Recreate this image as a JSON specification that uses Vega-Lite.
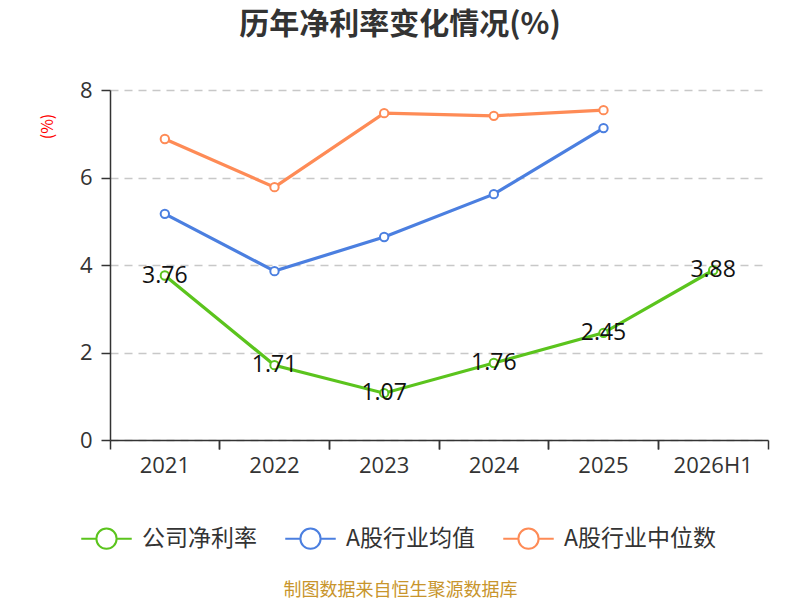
{
  "$schema": "https://vega.github.io/schema/vega-lite/v6.json",
  "width": 658,
  "height": 350,
  "autosize": {"type": "none"},
  "padding": {"left": 110, "top": 90, "right": 32, "bottom": 160},
  "background": "white",
  "config": {
    "font": "Noto Sans CJK SC",
    "view": {"stroke": null}
  },
  "title": {
    "text": "历年净利率变化情况(%)",
    "fontSize": 30,
    "fontWeight": "bold",
    "color": "#333333",
    "anchor": "middle",
    "frame": "group",
    "dx": -39,
    "offset": 39
  },
  "data": {
    "values": [
      {"year": "2021", "series": "公司净利率", "value": 3.76},
      {"year": "2022", "series": "公司净利率", "value": 1.71},
      {"year": "2023", "series": "公司净利率", "value": 1.07},
      {"year": "2024", "series": "公司净利率", "value": 1.76},
      {"year": "2025", "series": "公司净利率", "value": 2.45},
      {"year": "2026H1", "series": "公司净利率", "value": 3.88},
      {"year": "2021", "series": "A股行业均值", "value": 5.17},
      {"year": "2022", "series": "A股行业均值", "value": 3.86},
      {"year": "2023", "series": "A股行业均值", "value": 4.64},
      {"year": "2024", "series": "A股行业均值", "value": 5.62},
      {"year": "2025", "series": "A股行业均值", "value": 7.13},
      {"year": "2021", "series": "A股行业中位数", "value": 6.88},
      {"year": "2022", "series": "A股行业中位数", "value": 5.78},
      {"year": "2023", "series": "A股行业中位数", "value": 7.47},
      {"year": "2024", "series": "A股行业中位数", "value": 7.41},
      {"year": "2025", "series": "A股行业中位数", "value": 7.54}
    ]
  },
  "layer": [
    {
      "mark": {"type": "line", "strokeWidth": 3.2},
      "encoding": {
        "x": {
          "field": "year", "type": "nominal", "sort": null,
          "scale": {"type": "band", "paddingInner": 0, "paddingOuter": 0},
          "axis": {
            "orient": "bottom",
            "title": "制图数据来自恒生聚源数据库",
            "titleColor": "#c8952c",
            "titleFontSize": 18,
            "titleFontWeight": "normal",
            "titleX": 290,
            "titleY": 150,
            "titleBaseline": "middle",
            "titleAlign": "center",
            "labelAngle": 0,
            "labelFont": "Open Sans",
            "labelFontSize": 22,
            "labelColor": "#333333",
            "labelPadding": 15,
            "ticks": false,
            "domain": true,
            "domainColor": "#333333",
            "domainWidth": 1.5,
            "grid": false
          }
        },
        "y": {
          "field": "value", "type": "quantitative",
          "scale": {"domain": [0, 8]},
          "axis": {
            "title": "(%)",
            "titleColor": "#ff0000",
            "titleFontSize": 16,
            "titleFontWeight": "normal",
            "titleAngle": 270,
            "titleX": -63,
            "titleY": 36,
            "titleAlign": "center",
            "titleBaseline": "middle",
            "values": [0, 2, 4, 6, 8],
            "labelFont": "Open Sans",
            "labelFontSize": 22,
            "labelColor": "#333333",
            "labelPadding": 9,
            "tickSize": 9,
            "tickColor": "#333333",
            "tickWidth": 1.5,
            "domainColor": "#333333",
            "domainWidth": 1.5,
            "grid": true,
            "gridColor": "#c8c8c8",
            "gridDash": [8, 6],
            "gridWidth": 1.5
          }
        },
        "color": {
          "field": "series", "type": "nominal",
          "scale": {"domain": ["公司净利率", "A股行业均值", "A股行业中位数"], "range": ["#5bc41d", "#4b7fe0", "#fe8b56"]},
          "legend": {
            "title": null,
            "orient": "none",
            "direction": "horizontal",
            "legendX": -30,
            "legendY": 422,
            "symbolType": "M-1,0L-0.4,0M0.4,0L1,0M0.4,0A0.4,0.4,0,1,1,-0.4,0A0.4,0.4,0,1,1,0.4,0Z",
            "symbolSize": 2550,
            "symbolStrokeWidth": 2,
            "symbolFillColor": "white",
            "labelFontSize": 23,
            "labelColor": "#333333",
            "labelOffset": 9,
            "columnPadding": 24,
            "labelLimit": 300
          }
        }
      }
    },
    {
      "mark": {"type": "point", "filled": false, "fill": "white", "fillOpacity": 1, "size": 70, "strokeWidth": 2, "opacity": 1},
      "encoding": {
        "x": {"field": "year", "type": "nominal", "sort": null, "axis": {"orient": "bottom", "bandPosition": 0, "labels": false, "ticks": true, "tickSize": 9, "tickColor": "#333333", "tickWidth": 1.5, "domain": false, "title": null, "grid": false}},
        "y": {"field": "value", "type": "quantitative"},
        "color": {"field": "series", "type": "nominal", "legend": null}
      }
    },
    {
      "transform": [{"filter": "datum.series === '公司净利率'"}],
      "mark": {"type": "text", "font": "Open Sans", "fontSize": 23, "color": "#111111", "align": "center", "baseline": "middle"},
      "encoding": {
        "x": {"field": "year", "type": "nominal", "sort": null, "axis": {"orient": "bottom", "bandPosition": 1, "labels": false, "ticks": true, "tickSize": 9, "tickColor": "#333333", "tickWidth": 1.5, "domain": false, "title": null, "grid": false}},
        "y": {"field": "value", "type": "quantitative"},
        "text": {"field": "value", "type": "quantitative", "format": ".2f"}
      }
    }
  ],
  "resolve": {"axis": {"x": "independent"}}
}
